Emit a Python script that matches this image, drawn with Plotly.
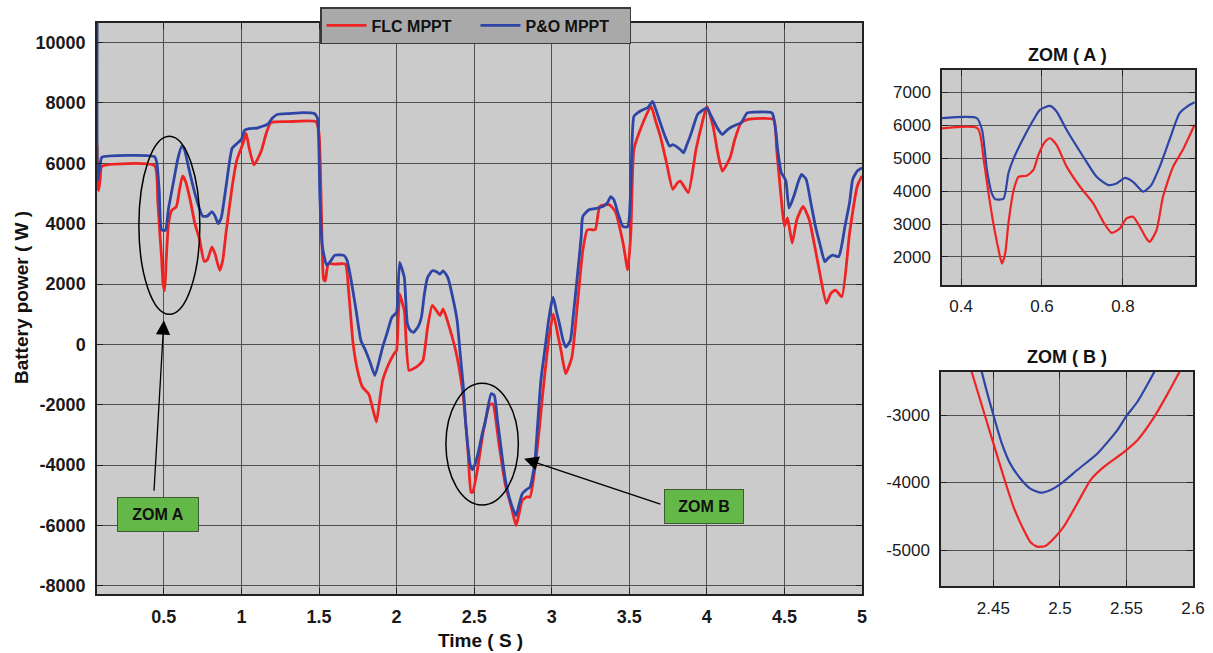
import plotly.graph_objects as go

# ---------------- data ----------------
t_po = [0.07, 0.072, 0.075, 0.09, 0.10, 0.44, 0.455, 0.47, 0.485, 0.51, 0.53, 0.56, 0.59, 0.615, 0.63,
        0.66, 0.69, 0.72, 0.75, 0.78, 0.81, 0.83, 0.85, 0.87, 0.90, 0.94, 0.97, 1.0, 1.02, 1.05,
        1.10, 1.17, 1.20, 1.23, 1.31, 1.40, 1.47, 1.49, 1.505, 1.52, 1.55, 1.58, 1.60, 1.66, 1.68,
        1.70, 1.74, 1.77, 1.80, 1.83, 1.86, 1.89, 1.91, 1.94, 1.97, 2.0, 2.01, 2.02, 2.035, 2.05,
        2.07, 2.09, 2.11, 2.14, 2.16, 2.18, 2.20, 2.23, 2.26, 2.28, 2.30, 2.33, 2.36, 2.39, 2.41,
        2.43, 2.445, 2.46, 2.475, 2.49, 2.51, 2.53, 2.55, 2.57, 2.61, 2.63, 2.65, 2.67, 2.69, 2.71,
        2.74, 2.77, 2.79, 2.81, 2.84, 2.86, 2.89, 2.91, 2.93, 2.96, 2.98, 3.00, 3.01, 3.03, 3.05,
        3.07, 3.09, 3.12, 3.14, 3.16, 3.19, 3.20, 3.24, 3.28, 3.33, 3.36, 3.38, 3.40, 3.43, 3.46,
        3.49, 3.50, 3.51, 3.53, 3.56, 3.59, 3.62, 3.65, 3.67, 3.70, 3.73, 3.76, 3.78, 3.80, 3.83,
        3.85, 3.87, 3.90, 3.94, 3.97, 4.0, 4.02, 4.04, 4.07, 4.10, 4.13, 4.15, 4.19, 4.22, 4.26,
        4.30, 4.42, 4.44, 4.46, 4.48, 4.50, 4.51, 4.53, 4.56, 4.59, 4.61, 4.64, 4.67, 4.70, 4.73,
        4.76, 4.78, 4.81, 4.85, 4.87, 4.89, 4.92, 4.94, 4.97, 5.0]
p_po = [10700, 5500, 5450, 6000, 6200, 6220, 6000, 5100, 3800, 3780, 4500, 5330, 6150, 6560, 6500,
        5850, 5200, 4650, 4250, 4250, 4400, 4250, 4000, 4200, 5200, 6500, 6650, 6800, 7100, 7150,
        7170, 7300, 7500, 7620, 7650, 7680, 7650, 7500, 5000, 3300, 2620, 2800, 2950, 2950, 2800,
        2330, 1100, 130, -200, -600, -1030, -500, -90, 400, 900, 1060, 1900, 2720, 2500, 2220,
        680, 450, 400, 600, 900, 1700, 2220, 2440, 2400, 2330, 2440, 2220, 1600, 800, -300,
        -1400, -2600, -3400, -4000, -4150, -3900, -3500, -3000, -2600, -1630, -1690, -2500, -3300, -4100, -4730,
        -5300, -5670, -5300, -4950, -4800, -4730, -3960, -2600, -1200, 0, 800, 1400, 1560, 1100, 680,
        200, -90, 130, 1000, 2000, 3560, 4240, 4460, 4500, 4570, 4700, 4900, 4800, 4300, 3900,
        3900, 4200, 5250, 7560, 7700, 7780, 7850, 8050, 7800, 7340, 6900, 6570, 6620, 6570, 6450,
        6350, 6600, 7010, 7620, 7750, 7840, 7650, 7450, 7150, 6960, 7100, 7180, 7280, 7340, 7670,
        7700, 7670, 7230, 6300, 5690, 5520, 5400, 4520, 4900, 5400, 5630, 5470, 4700, 3910, 3300,
        2740, 2850, 2960, 2910, 3300, 3910, 4700, 5470, 5750, 5850]

t_flc = [0.07, 0.072, 0.08, 0.09, 0.10, 0.44, 0.46, 0.475, 0.485, 0.495, 0.505, 0.515, 0.53, 0.55, 0.58,
         0.60, 0.62, 0.64, 0.67, 0.70, 0.73, 0.76, 0.78, 0.81, 0.83, 0.86, 0.88, 0.90, 0.94, 0.97,
         1.01, 1.03, 1.05, 1.08, 1.10, 1.13, 1.16, 1.19, 1.30, 1.48, 1.50, 1.515, 1.53, 1.54, 1.56,
         1.60, 1.67, 1.69, 1.72, 1.75, 1.78, 1.82, 1.845, 1.87, 1.89, 1.91, 1.95, 1.985, 2.0, 2.01,
         2.02, 2.035, 2.05, 2.08, 2.11, 2.14, 2.17, 2.20, 2.23, 2.26, 2.28, 2.30, 2.34, 2.39, 2.43,
         2.46, 2.48, 2.49, 2.52, 2.56, 2.60, 2.62, 2.66, 2.70, 2.74, 2.77, 2.79, 2.81, 2.84, 2.86,
         2.89, 2.92, 2.94, 2.98, 3.01, 3.04, 3.06, 3.09, 3.13, 3.17, 3.20, 3.23, 3.28, 3.31, 3.37,
         3.41, 3.46, 3.49, 3.51, 3.53, 3.58, 3.64, 3.67, 3.70, 3.74, 3.78, 3.81, 3.83, 3.88, 3.93,
         3.97, 4.0, 4.04, 4.07, 4.10, 4.15, 4.18, 4.22, 4.26, 4.43, 4.45, 4.48, 4.50, 4.52, 4.55,
         4.58, 4.62, 4.66, 4.72, 4.77, 4.80, 4.83, 4.87, 4.92, 4.97, 5.0]
p_flc = [6600, 5300, 5100, 5500, 5900, 5920, 4800, 3600, 2900, 2000, 1780, 2800, 4000, 4440, 4560,
         5100, 5580, 5400, 4780, 4000, 3480, 2750, 2800, 3230, 3000, 2450, 2800, 3670, 5220, 6100,
         6660, 7000, 6500, 5950, 6100, 6440, 7000, 7350, 7380, 7380, 7000, 4500, 2150, 2100, 2670,
         2660, 2660, 1830, 20, -900, -1410, -1640, -2100, -2570, -1900, -1200, -640, -300, -200, 800,
         1670, 1400, 1120, -860, -800, -700, -530, 570, 1290, 1100, 960, 1180, 570, -420, -1740,
         -3510, -4900, -4900, -4180, -2850, -2000, -1970, -3300, -4620, -5400, -6000, -5600, -5170, -5050, -5060,
         -4180, -2800, -1740, 130, 1010, 300, -200, -970, -420, 1560, 3100, 3800, 3800, 4570, 4630,
         4400, 3360, 2470, 3690, 6460, 7240, 7890, 7400, 6900, 6020, 5140, 5350, 5410, 5030, 6460,
         7340, 7890, 7230, 6350, 5740, 6190, 6790, 7340, 7450, 7450, 6460, 4800, 3910, 4190, 3360,
         4130, 4570, 4130, 2580, 1360, 1700, 1800, 1580, 3690, 5250, 5580]

# Zoom A
ta_po = [0.353, 0.439, 0.452, 0.464, 0.476, 0.485, 0.505, 0.517, 0.530, 0.554, 0.579, 0.595, 0.620, 0.636,
         0.661, 0.702, 0.735, 0.764, 0.784, 0.805, 0.825, 0.850, 0.870, 0.891, 0.915, 0.940, 0.961, 0.977]
pa_po = [6210, 6210, 5850, 4640, 3930, 3750, 3770, 4540, 4990, 5600, 6160, 6460, 6580, 6410,
         5850, 5040, 4430, 4180, 4230, 4400, 4280, 3980, 4180, 4740, 5550, 6360, 6580, 6690]
ta_flc = [0.353, 0.441, 0.456, 0.468, 0.480, 0.493, 0.501, 0.509, 0.517, 0.530, 0.542, 0.562, 0.579, 0.591,
          0.608, 0.620, 0.636, 0.661, 0.694, 0.727, 0.751, 0.772, 0.792, 0.809, 0.825, 0.842, 0.858, 0.866,
          0.883, 0.899, 0.924, 0.948, 0.977]
pa_flc = [5900, 5900, 4940, 3930, 3010, 2200, 1800, 2100, 3010, 4030, 4430, 4460, 4640, 5090,
          5500, 5600, 5400, 4740, 4130, 3620, 3070, 2730, 2860, 3170, 3220, 2910, 2560, 2460,
          2810, 3830, 4740, 5250, 6010]

# Zoom B
tb_po = [2.4412, 2.445, 2.45, 2.4563, 2.4626, 2.4702, 2.4777, 2.4853, 2.4929, 2.5005, 2.5130, 2.5282,
         2.5433, 2.5496, 2.5584, 2.5710]
pb_po = [-2360, -2650, -3000, -3420, -3720, -3940, -4090, -4150, -4110, -4020, -3815, -3570,
         -3220, -3025, -2800, -2360]
tb_flc = [2.4336, 2.4424, 2.45, 2.4576, 2.4651, 2.4727, 2.4777, 2.4828, 2.4891, 2.4954, 2.5030, 2.5130,
          2.5231, 2.5332, 2.5483, 2.5584, 2.5710, 2.5811, 2.5899]
pb_flc = [-2360, -2930, -3420, -3910, -4360, -4700, -4880, -4950, -4940, -4830, -4650, -4310,
          -3960, -3765, -3545, -3370, -3025, -2680, -2360]

main_xticks = [0.5, 1, 1.5, 2, 2.5, 3, 3.5, 4, 4.5, 5]
main_xlabels = ["0.5", "1", "1.5", "2", "2.5", "3", "3.5", "4", "4.5", "5"]
main_yticks = [-8000, -6000, -4000, -2000, 0, 2000, 4000, 6000, 8000, 10000]
main_ylabels = ["-8000", "-6000", "-4000", "-2000", "0", "2000", "4000", "6000", "8000", "10000"]
a_xticks = [0.4, 0.6, 0.8]
a_xlabels = ["0.4", "0.6", "0.8"]
a_yticks = [2000, 3000, 4000, 5000, 6000, 7000]
a_ylabels = ["2000", "3000", "4000", "5000", "6000", "7000"]
b_xticks = [2.45, 2.5, 2.55, 2.6]
b_xlabels = ["2.45", "2.5", "2.55", "2.6"]
b_yticks = [-5000, -4000, -3000]
b_ylabels = ["-5000", "-4000", "-3000"]

# ---------------- styling ----------------
W, H = 1213, 653
RED = "#ee2424"
BLUE = "#2f45a6"
FONT = "Liberation Sans"
PLOT_BG = "#cbcbcb"
GRID = "#505050"

def px(x):
    return x / W

def py(y):
    return 1 - y / H

fig = go.Figure()

LINE_MAIN = dict(width=2.8, shape="spline", smoothing=0.5)
LINE_ZOOM = dict(width=2.2, shape="spline", smoothing=0.6)

fig.add_trace(go.Scatter(x=t_flc, y=p_flc, mode="lines", name="FLC MPPT",
                         line=dict(color=RED, **LINE_MAIN), xaxis="x", yaxis="y"))
fig.add_trace(go.Scatter(x=t_po, y=p_po, mode="lines", name="P&O MPPT",
                         line=dict(color=BLUE, **LINE_MAIN), xaxis="x", yaxis="y"))
fig.add_trace(go.Scatter(x=ta_po, y=pa_po, mode="lines", showlegend=False,
                         line=dict(color=BLUE, **LINE_ZOOM), xaxis="x2", yaxis="y2"))
fig.add_trace(go.Scatter(x=ta_flc, y=pa_flc, mode="lines", showlegend=False,
                         line=dict(color=RED, **LINE_ZOOM), xaxis="x2", yaxis="y2"))
fig.add_trace(go.Scatter(x=tb_po, y=pb_po, mode="lines", showlegend=False,
                         line=dict(color=BLUE, **LINE_ZOOM), xaxis="x3", yaxis="y3"))
fig.add_trace(go.Scatter(x=tb_flc, y=pb_flc, mode="lines", showlegend=False,
                         line=dict(color=RED, **LINE_ZOOM), xaxis="x3", yaxis="y3"))

def axis(domain, rng, tv, tt, anchor, bold, size, standoff):
    f = dict(family=FONT, size=size, color="#1a1a1a")
    if bold:
        f["weight"] = "bold"
    return dict(domain=domain, range=rng, tickmode="array", tickvals=tv, ticktext=tt,
                anchor=anchor, showgrid=True, gridcolor=GRID, gridwidth=1,
                showline=True, linecolor="#222222", linewidth=1.5, mirror="ticks",
                ticks="inside", ticklen=6, tickcolor="#222222", tickfont=f,
                zeroline=False, ticklabelstandoff=standoff, fixedrange=True,
                automargin=False)

layout = dict(
    width=W, height=H, autosize=False,
    margin=dict(l=0, r=0, t=0, b=0),
    paper_bgcolor="white", plot_bgcolor=PLOT_BG,
    font=dict(family=FONT, color="#111111"),
    xaxis=axis([px(97), px(862)], [0.069, 5.0], main_xticks, main_xlabels, "y", True, 18, 6),
    yaxis=axis([py(594), py(23)], [-8270, 10650], main_yticks, main_ylabels, "x", True, 18, 6),
    xaxis2=axis([px(942), px(1195)], [0.353, 0.978], a_xticks, a_xlabels, "y2", False, 17, 5),
    yaxis2=axis([py(285), py(70)], [1150, 7670], a_yticks, a_ylabels, "x2", False, 17, 6),
    xaxis3=axis([px(941), px(1193)], [2.4106, 2.6], b_xticks, b_xlabels, "y3", False, 17, 6),
    yaxis3=axis([py(586), py(372)], [-5533, -2363], b_yticks, b_ylabels, "x3", False, 17, 6),
    legend=dict(orientation="h", x=px(320), y=py(7), xanchor="left", yanchor="top",
                bgcolor="#a9a9a9", bordercolor="#3a3a3a", borderwidth=1.5,
                font=dict(family=FONT, size=16, color="#111111", weight="bold"),
                itemwidth=40, entrywidth=99, tracegroupgap=0),
)

shapes = [
    dict(type="circle", xref="x", yref="y", x0=0.339, x1=0.732, y0=1000, y1=6900,
         line=dict(color="black", width=1.5)),
    dict(type="circle", xref="x", yref="y", x0=2.318, x1=2.785, y0=-5320, y1=-1285,
         line=dict(color="black", width=1.5)),
]

TXT = dict(xref="paper", yref="paper", showarrow=False, xanchor="center", yanchor="middle")
annotations = [
    dict(text="Battery power ( W )", x=px(21), y=py(298), textangle=-90,
         font=dict(size=19, weight="bold", family=FONT, color="#111"), **TXT),
    dict(text="Time ( S )", x=px(480), y=py(640),
         font=dict(size=19, weight="bold", family=FONT, color="#111"), **TXT),
    dict(text="ZOM ( A )", x=px(1067), y=py(55),
         font=dict(size=18, weight="bold", family=FONT, color="#111"), **TXT),
    dict(text="ZOM ( B )", x=px(1067), y=py(357),
         font=dict(size=18, weight="bold", family=FONT, color="#111"), **TXT),
    # arrows
    dict(text="", x=0.5, y=800, ax=0.436, ay=-4900, xref="x", yref="y", axref="x", ayref="y",
         showarrow=True, arrowhead=2, arrowsize=2.2, arrowwidth=1.3, arrowcolor="black"),
    dict(text="", x=2.822, y=-3785, ax=3.71, ay=-5312, xref="x", yref="y", axref="x", ayref="y",
         showarrow=True, arrowhead=2, arrowsize=2.2, arrowwidth=1.3, arrowcolor="black"),
    # label boxes
    dict(text="ZOM A", x=0.4646, y=-5627, xref="x", yref="y", showarrow=False,
         xanchor="center", yanchor="middle",
         bgcolor="#63b847", bordercolor="#3d5a32", borderwidth=1, borderpad=8,
         width=64, font=dict(size=16, weight="bold", family=FONT, color="#111")),
    dict(text="ZOM B", x=3.984, y=-5380, xref="x", yref="y", showarrow=False,
         xanchor="center", yanchor="middle",
         bgcolor="#63b847", bordercolor="#3d5a32", borderwidth=1, borderpad=8,
         width=62, font=dict(size=16, weight="bold", family=FONT, color="#111")),
]

layout["shapes"] = shapes
layout["annotations"] = annotations
fig.update_layout(**layout)

fig.write_html("out.html")
